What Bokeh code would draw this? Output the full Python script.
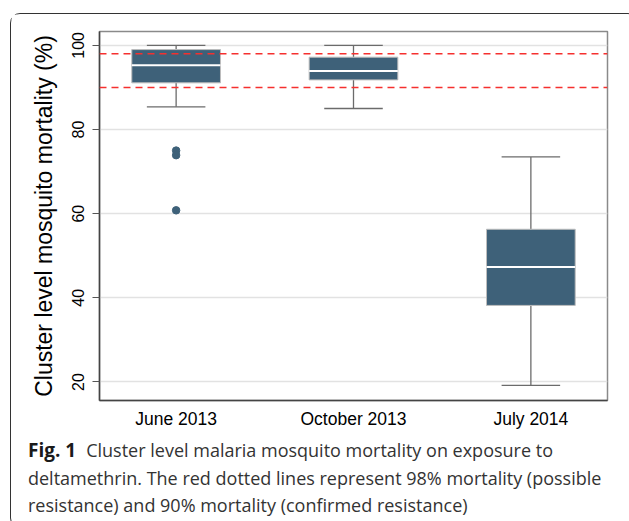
from bokeh.plotting import figure
from bokeh.models import Range1d, FixedTicker, Span, ColumnDataSource, Div
from bokeh.layouts import column
from bokeh.embed import file_html
from bokeh.resources import INLINE

# ---- data ----
categories = ["June 2013", "October 2013", "July 2014"]
q1 = [91.1, 91.8, 38.2]
medians = [95.3, 93.9, 47.3]
q3 = [99.0, 97.2, 56.3]
lower_whisker = [85.4, 85.0, 19.2]
upper_whisker = [100.0, 100.0, 73.5]
outlier_group = [0, 0, 0]
outlier_values = [75.0, 73.9, 60.8]
thresholds = [98, 90]
y_ticks = [20, 40, 60, 80, 100]

caption_bold = "Fig. 1"
caption_lines = [
    "Cluster level malaria mosquito mortality on exposure to",
    "deltamethrin. The red dotted lines represent 98% mortality (possible",
    "resistance) and 90% mortality (confirmed resistance)",
]

FW, FH = 616, 420
BOX = "#3e6179"

p = figure(width=FW, height=FH, output_backend="svg", toolbar_location=None,
           x_range=Range1d(-0.432, 2.432), y_range=Range1d(15.6, 103.3),
           min_border_left=88, min_border_right=20, min_border_top=17,
           min_border_bottom=34)
p.background_fill_color = "white"
p.border_fill_color = "white"
p.outline_line_color = "#8a8a8a"
p.outline_line_width = 1.5

xs = list(range(len(categories)))
src = ColumnDataSource(dict(x=xs, q1=q1, med=medians, q3=q3, lo=lower_whisker,
                            hi=upper_whisker))

# whiskers
p.segment(x0="x", x1="x", y0="q3", y1="hi", source=src, line_color="#6b6b6b", line_width=1.3)
p.segment(x0="x", x1="x", y0="lo", y1="q1", source=src, line_color="#6b6b6b", line_width=1.3)
cap = 0.165
p.segment(x0=[x - cap for x in xs], x1=[x + cap for x in xs], y0=upper_whisker, y1=upper_whisker,
          line_color="#6b6b6b", line_width=1.3)
p.segment(x0=[x - cap for x in xs], x1=[x + cap for x in xs], y0=lower_whisker, y1=lower_whisker,
          line_color="#6b6b6b", line_width=1.3)
# boxes
p.vbar(x="x", width=0.5, top="q3", bottom="q1", source=src, fill_color=BOX,
       line_color="#bdbdbd", line_width=1)
# medians
p.segment(x0=[x - 0.25 for x in xs], x1=[x + 0.25 for x in xs], y0=medians, y1=medians,
          line_color="white", line_width=2)
# outliers
p.scatter(x=outlier_group, y=outlier_values, size=7.5, fill_color=BOX, line_color=BOX)

# threshold lines
for t in thresholds:
    p.add_layout(Span(location=t, dimension="width", line_color="#f5302f",
                      line_width=1.4, line_dash="7 5"))

# axes
p.xgrid.grid_line_color = None
p.ygrid.grid_line_color = "#e2e2e2"
p.ygrid.grid_line_width = 1.3
p.ygrid.ticker = FixedTicker(ticks=y_ticks)

p.yaxis.ticker = FixedTicker(ticks=y_ticks)
p.yaxis.major_label_orientation = "vertical"
p.yaxis.major_label_text_font = "Liberation Sans"
p.yaxis.major_label_text_font_size = "16px"
p.yaxis.major_label_text_color = "black"
p.yaxis.major_tick_out = 7
p.yaxis.major_tick_in = 0
p.yaxis.minor_tick_line_color = None
p.yaxis.major_tick_line_color = "#555555"
p.yaxis.axis_line_color = "#444444"
p.yaxis.axis_line_width = 1.5
p.yaxis.major_label_standoff = 8
p.yaxis.axis_label = "Cluster level mosquito mortality (%)"
p.yaxis.axis_label_text_font = "Liberation Sans"
p.yaxis.axis_label_text_font_size = "23px"
p.yaxis.axis_label_text_font_style = "normal"
p.yaxis.axis_label_text_color = "black"
p.yaxis.axis_label_standoff = 13

p.xaxis.ticker = FixedTicker(ticks=xs)
p.xaxis.major_label_overrides = {i: c for i, c in enumerate(categories)}
p.xaxis.major_label_text_font = "Liberation Sans"
p.xaxis.major_label_text_font_size = "17.5px"
p.xaxis.major_label_text_color = "black"
p.xaxis.major_tick_line_color = None
p.xaxis.minor_tick_line_color = None
p.xaxis.major_tick_out = 0
p.xaxis.major_tick_in = 0
p.xaxis.major_label_standoff = 8
p.xaxis.axis_line_color = "#444444"
p.xaxis.axis_line_width = 1.5

# caption below the chart
cap_html = (
    '<div style="margin-top:-2px; padding:0 0 0 12px; font-family:\'Open Sans\'; font-size:18px; '
    'line-height:27.5px; color:#333333; white-space:nowrap;">'
    f'<span style="font-weight:bold; font-size:19px; color:#1a1a1a; margin-right:10px;">'
    f'{caption_bold}</span>'
    f'{caption_lines[0]}<br>{caption_lines[1]}<br>{caption_lines[2]}</div>'
)
caption = Div(text=cap_html, width=FW, height=83)

layout = column(p, caption, spacing=0,
                styles={"border": "1.3px solid #333333", "border-radius": "10px",
                        "margin": "13px 0 0 10px", "background": "white"})

open("out.html", "w").write(file_html(layout, INLINE))
